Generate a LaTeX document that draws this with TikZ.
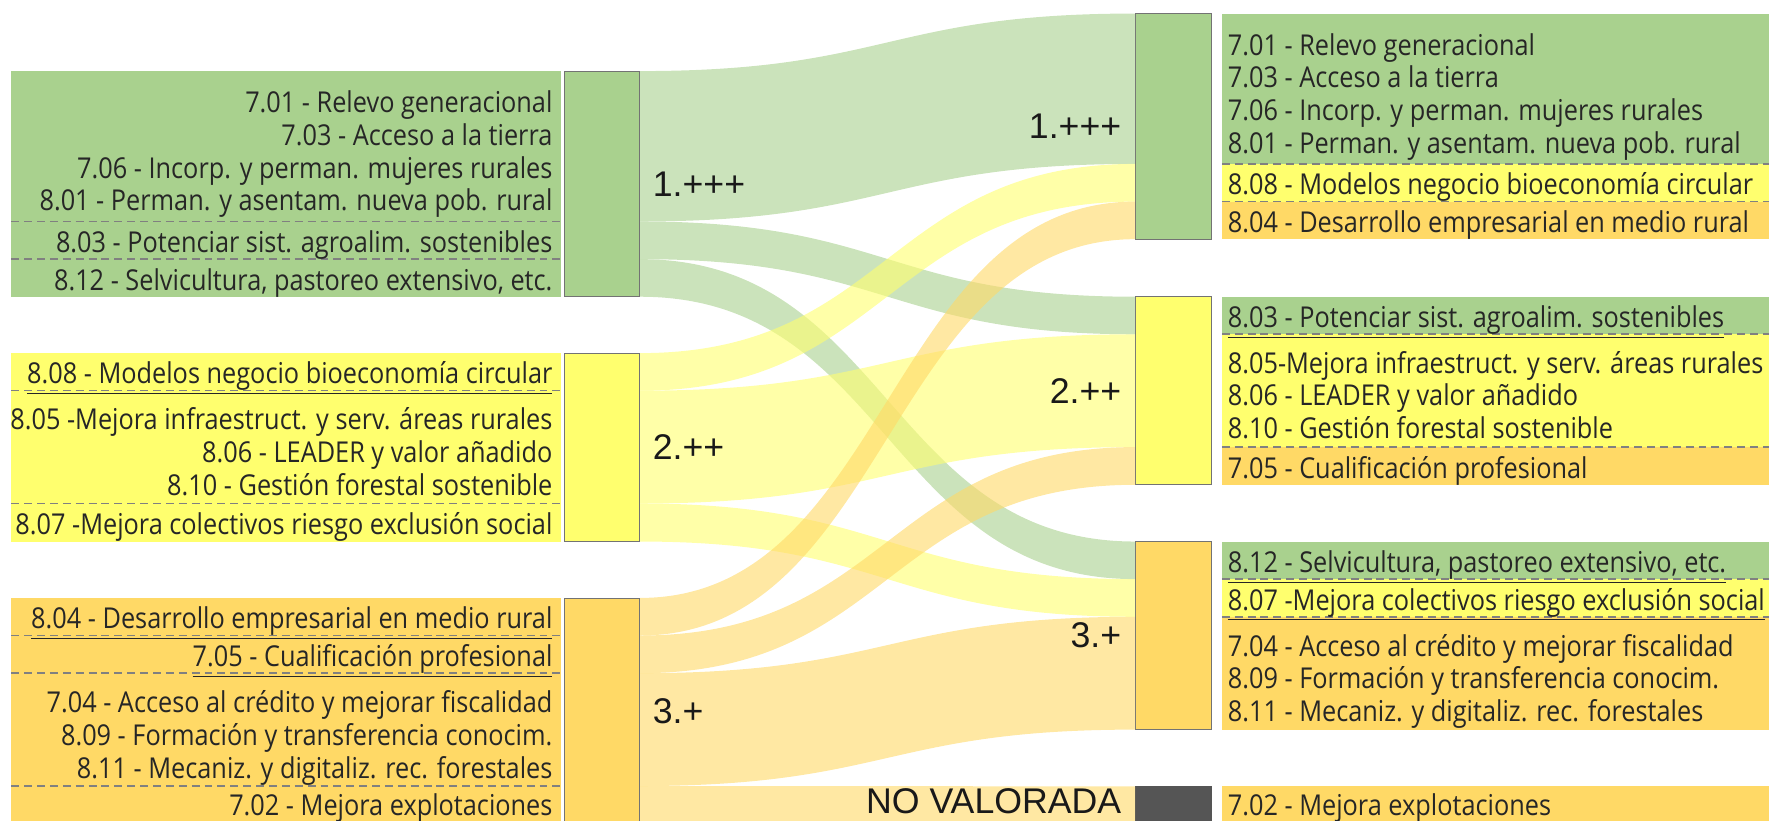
\documentclass[tikz,border=0pt]{standalone}
\usepackage{fontspec}
\usetikzlibrary{positioning}
\newfontfamily\itemfont[FakeStretch=0.88]{Open Sans}
\newfontfamily\levelfont{Liberation Sans}
\definecolor{verde}{HTML}{A9D18E}
\definecolor{amarillo}{HTML}{FFFF6E}
\definecolor{naranja}{HTML}{FFD966}
\definecolor{gris}{HTML}{555555}
\newcommand{\flow}[7]{\fill[#1, fill opacity=0.6] (#2.east |- 0,#3) .. controls (787,#3) and (787,#6) .. (#5.west |- 0,#6) -- (#5.west |- 0,#7) .. controls (787,#7) and (787,#4) .. (#2.east |- 0,#4) -- cycle;}
\begin{document}
\begin{tikzpicture}[x=0.02cm, y=-0.02cm,
  nd/.style={rectangle, draw=black!55, minimum width=1.34cm, inner sep=0pt},
  item/.style={font=\itemfont\fontsize{14.5}{17}\selectfont, text=black!85, inner sep=0pt},
  itl/.style={item, anchor=mid east},
  itr/.style={item, anchor=mid west},
  lvl/.style={font=\levelfont\fontsize{18}{20}\selectfont, text=black!90, inner sep=0pt},
  sep/.style={draw=black!50, dash pattern=on 4pt off 2.5pt, line width=0.8pt}]
	\useasboundingbox (0,0) rectangle (1568,727);
	\clip (0,0) rectangle (1568,727);
	% left boxes
	\fill[verde] (10,63) rectangle (497,263);
	\fill[amarillo] (10,313) rectangle (497,480);
	\fill[naranja] (10,530) rectangle (497,730);
	\draw[sep] (10,196.3) -- (497,196.3);
	\draw[sep] (10,229.7) -- (497,229.7);
	\draw[sep] (10,346.3) -- (497,346.3);
	\draw[sep] (10,446.3) -- (497,446.3);
	\draw[sep] (10,563.3) -- (497,563.3);
	\draw[sep] (10,596.7) -- (497,596.7);
	\draw[sep] (10,696.7) -- (497,696.7);
	% right boxes
	\fill[verde] (1083,12) rectangle (1568,145.3);
	\fill[amarillo] (1083,145.3) rectangle (1568,178.7);
	\fill[naranja] (1083,178.7) rectangle (1568,212);
	\fill[verde] (1083,263) rectangle (1568,296.3);
	\fill[amarillo] (1083,296.3) rectangle (1568,396.3);
	\fill[naranja] (1083,396.3) rectangle (1568,429.7);
	\fill[verde] (1083,480) rectangle (1568,513.3);
	\fill[amarillo] (1083,513.3) rectangle (1568,546.7);
	\fill[naranja] (1083,546.7) rectangle (1568,646.7);
	\fill[naranja] (1083,697) rectangle (1568,730);
	\draw[sep] (1083,145.3) -- (1568,145.3);
	\draw[sep] (1083,178.7) -- (1568,178.7);
	\draw[sep] (1083,296.3) -- (1568,296.3);
	\draw[sep] (1083,396.3) -- (1568,396.3);
	\draw[sep] (1083,513.3) -- (1568,513.3);
	\draw[sep] (1083,546.7) -- (1568,546.7);
	% nodes
	\node[nd, fill=verde, minimum height=4cm] (L1) at (533.5,163) {};
	\node[nd, fill=amarillo, minimum height=3.333cm] (L2) at (533.5,396.5) {};
	\node[nd, fill=naranja, minimum height=4cm] (L3) at (533.5,630) {};
	\node[nd, fill=verde, minimum height=4cm] (R1) at (1040,112) {};
	\node[nd, fill=amarillo, minimum height=3.333cm] (R2) at (1040,346.3) {};
	\node[nd, fill=naranja, minimum height=3.333cm] (R3) at (1040,563.3) {};
	\node[nd, fill=gris, draw=gris, minimum height=0.667cm] (R4) at (1040,713.5) {};
	% flows
	\flow{verde}{L1}{63}{196.3}{R1}{12}{145.3}
	\flow{verde}{L1}{196.3}{229.7}{R2}{263}{296.3}
	\flow{verde}{L1}{229.7}{263}{R3}{480}{513.3}
	\flow{amarillo}{L2}{313}{346.3}{R1}{145.3}{178.7}
	\flow{amarillo}{L2}{346.3}{446.3}{R2}{296.3}{396.3}
	\flow{amarillo}{L2}{446.3}{480}{R3}{513.3}{546.7}
	\flow{naranja}{L3}{530}{563.3}{R1}{178.7}{212}
	\flow{naranja}{L3}{563.3}{596.7}{R2}{396.3}{429.7}
	\flow{naranja}{L3}{596.7}{696.7}{R3}{546.7}{646.7}
	\flow{naranja}{L3}{696.7}{730}{R4}{697}{730}
	% level labels
	\node[lvl, anchor=west, right=0.22cm of L1] (l1) {1.+++};
	\node[lvl, anchor=west, right=0.22cm of L2] (l2) {2.++};
	\node[lvl, anchor=west, right=0.22cm of L3] (l3) {3.+};
	\node[lvl, anchor=east, left=0.24cm of R1] (r1) {1.+++};
	\node[lvl, anchor=east, left=0.24cm of R2] (r2) {2.++};
	\node[lvl, anchor=east, left=0.24cm of R3] (r3) {3.+};
	\node[lvl, anchor=east, left=0.24cm of R4, yshift=0.07cm] (r4) {NO VALORADA};
	% left items
	\node[itl] (a701) at (490,96) {7.01 - Relevo generacional};
	\node[itl] (a703) at (490,125) {7.03 - Acceso a la tierra};
	\node[itl] (a706) at (490,154) {7.06 - Incorp. y perman. mujeres rurales};
	\node[itl] (a801) at (490,183) {8.01 - Perman. y asentam. nueva pob. rural};
	\node[itl] (a803) at (490,220) {8.03 - Potenciar sist. agroalim. sostenibles};
	\node[itl] (a812) at (490,253.5) {8.12 - Selvicultura, pastoreo extensivo, etc.};
	\node[itl] (a808) at (490,336.5) {\underline{8.08 - Modelos negocio bioeconomía circular}};
	\node[itl] (a805) at (490,377) {8.05 -Mejora infraestruct. y serv. áreas rurales};
	\node[itl] (a806) at (490,406) {8.06 - LEADER y valor añadido};
	\node[itl] (a810) at (490,435) {8.10 - Gestión forestal sostenible};
	\node[itl] (a807) at (490,470) {8.07 -Mejora colectivos riesgo exclusión social};
	\node[itl] (a804) at (490,553.5) {\underline{8.04 - Desarrollo empresarial en medio rural}};
	\node[itl] (a705) at (490,587) {\underline{7.05 - Cualificación profesional}};
	\node[itl] (a704) at (490,628) {7.04 - Acceso al crédito y mejorar fiscalidad};
	\node[itl] (a809) at (490,657) {8.09 - Formación y transferencia conocim.};
	\node[itl] (a811) at (490,686) {8.11 - Mecaniz. y digitaliz. rec. forestales};
	\node[itl] (a702) at (490,719) {7.02 - Mejora explotaciones};
	% right items
	\node[itr] (b701) at (1088,45) {7.01 - Relevo generacional};
	\node[itr] (b703) at (1088,74) {7.03 - Acceso a la tierra};
	\node[itr] (b706) at (1088,103) {7.06 - Incorp. y perman. mujeres rurales};
	\node[itr] (b801) at (1088,132) {8.01 - Perman. y asentam. nueva pob. rural};
	\node[itr] (b808) at (1088,169) {8.08 - Modelos negocio bioeconomía circular};
	\node[itr] (b804) at (1088,202.5) {8.04 - Desarrollo empresarial en medio rural};
	\node[itr] (b803) at (1088,286.5) {\underline{8.03 - Potenciar sist. agroalim. sostenibles}};
	\node[itr] (b805) at (1088,327) {8.05-Mejora infraestruct. y serv. áreas rurales};
	\node[itr] (b806) at (1088,356) {8.06 - LEADER y valor añadido};
	\node[itr] (b810) at (1088,385) {8.10 - Gestión forestal sostenible};
	\node[itr] (b705) at (1088,420) {7.05 - Cualificación profesional};
	\node[itr] (b812) at (1088,503.5) {\underline{8.12 - Selvicultura, pastoreo extensivo, etc.}};
	\node[itr] (b807) at (1088,537) {\underline{8.07 -Mejora colectivos riesgo exclusión social}};
	\node[itr] (b704) at (1088,577.7) {7.04 - Acceso al crédito y mejorar fiscalidad};
	\node[itr] (b809) at (1088,606.7) {8.09 - Formación y transferencia conocim.};
	\node[itr] (b811) at (1088,635.7) {8.11 - Mecaniz. y digitaliz. rec. forestales};
	\node[itr] (b702) at (1088,719) {7.02 - Mejora explotaciones};
\end{tikzpicture}
\end{document}
